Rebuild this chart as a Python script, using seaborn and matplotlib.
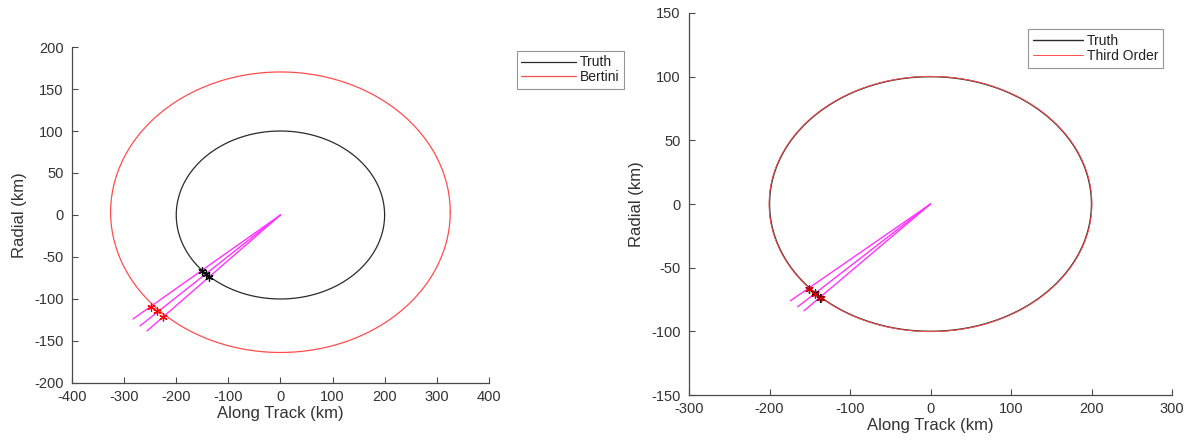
import numpy as np
import pandas as pd
import matplotlib
matplotlib.use("Agg")
import matplotlib.pyplot as plt
import seaborn as sns

# Ellipse parameters (km): semi-axis along track, semi-axis radial, radial centre offset
truth_ellipse = [200.0, 100.0, 0.0]
bertini_ellipse = [326.0, 167.0, 3.3]
third_order_ellipse = [200.5, 100.2, 0.0]

# Line-of-sight rays from the origin (end points, km)
left_ray_end_x = [-283.0, -269.5, -256.0]
left_ray_end_y = [-123.8, -132.0, -138.0]
right_ray_end_x = [-174.0, -165.0, -157.0]
right_ray_end_y = [-76.0, -80.7, -83.8]

# Ray intersections with each ellipse (km)
truth_hit_x = [-151.3, -143.0, -136.8]
truth_hit_y = [-66.7, -70.2, -74.2]
bertini_hit_x = [-248.7, -237.5, -224.9]
bertini_hit_y = [-109.2, -114.3, -121.0]
third_hit_x = [-151.0, -143.5, -136.5]
third_hit_y = [-66.5, -70.4, -74.0]

sns.set_theme(style="white")
plt.rcParams["font.family"] = ["Liberation Sans", "DejaVu Sans"]

AX_COLOR = "#4a4a4a"
TRUTH_C = "#2b2b2b"
EST_C = "#ff4d4d"
RAY_C = "#ff33ff"
ASTERISK = (6, 2, 0)


def ellipse_frame(params, n=721):
    a, b, cy = params
    t = np.linspace(0, 2 * np.pi, n)
    return pd.DataFrame({"x": a * np.cos(t), "y": b * np.sin(t) + cy, "order": np.arange(n)})


def draw_rays(ax, ex, ey):
    for x1, y1 in zip(ex, ey):
        seg = pd.DataFrame({"x": [0.0, x1], "y": [0.0, y1]})
        sns.lineplot(data=seg, x="x", y="y", sort=False, estimator=None,
                     color=RAY_C, lw=1.0, ax=ax, legend=False)


def draw_hits(ax, xs, ys, color):
    pts = pd.DataFrame({"x": xs, "y": ys})
    sns.scatterplot(data=pts, x="x", y="y", marker=ASTERISK, s=28,
                    color=color, edgecolor=color, linewidth=0.9, ax=ax,
                    legend=False, zorder=5)


def style_axes(ax, xlim, ylim, xticks, yticks):
    ax.set_xlim(*xlim)
    ax.set_ylim(*ylim)
    ax.set_xticks(xticks)
    ax.set_yticks(yticks)
    ax.set_xticklabels([str(v) for v in xticks])
    ax.set_yticklabels([str(v) for v in yticks])
    for side in ("top", "right"):
        ax.spines[side].set_visible(False)
    for side in ("left", "bottom"):
        ax.spines[side].set_color(AX_COLOR)
        ax.spines[side].set_linewidth(0.9)
    ax.tick_params(direction="in", length=4, width=0.8, color=AX_COLOR,
                   labelcolor="#333333", labelsize=10.5, bottom=True, left=True)
    ax.tick_params(axis="x", pad=5)
    ax.tick_params(axis="y", pad=6)
    ax.set_xlabel("Along Track (km)", fontsize=12, color="#333333", labelpad=1.5)
    ax.set_ylabel("Radial (km)", fontsize=12, color="#333333", labelpad=5)


def style_legend(leg):
    leg.get_frame().set_edgecolor("#7a7a7a")
    leg.get_frame().set_linewidth(0.8)
    for txt in leg.get_texts():
        txt.set_color("#222222")


fig = plt.figure(figsize=(11.89, 4.46), dpi=100)
ax1 = fig.add_axes([0.0606, 0.1413, 0.3505, 0.7533])
ax2 = fig.add_axes([0.5795, 0.1143, 0.4062, 0.8566])

# Left panel: truth vs Bertini solution
t_df = ellipse_frame(truth_ellipse)
b_df = ellipse_frame(bertini_ellipse)
draw_rays(ax1, left_ray_end_x, left_ray_end_y)
sns.lineplot(data=t_df, x="x", y="y", sort=False, estimator=None,
             color=TRUTH_C, lw=0.9, ax=ax1, label="Truth")
sns.lineplot(data=b_df, x="x", y="y", sort=False, estimator=None,
             color=EST_C, lw=0.9, ax=ax1, label="Bertini")
draw_hits(ax1, truth_hit_x, truth_hit_y, "black")
draw_hits(ax1, bertini_hit_x, bertini_hit_y, "red")
style_axes(ax1, (-400, 400), (-200, 200),
           list(range(-400, 401, 100)), list(range(-200, 201, 50)))
leg1 = ax1.legend(loc="upper left", bbox_to_anchor=(1.05, 1.01), fontsize=10,
                  handlelength=3.9, handletextpad=0.3, borderpad=0.35,
                  labelspacing=0.05, fancybox=False, frameon=True)
style_legend(leg1)

# Right panel: truth vs third-order solution
o_df = ellipse_frame(third_order_ellipse)
draw_rays(ax2, right_ray_end_x, right_ray_end_y)
sns.lineplot(data=t_df, x="x", y="y", sort=False, estimator=None,
             color=TRUTH_C, lw=1.0, ax=ax2, label="Truth")
sns.lineplot(data=o_df, x="x", y="y", sort=False, estimator=None,
             color=EST_C, lw=0.7, ax=ax2, label="Third Order")
draw_hits(ax2, truth_hit_x, truth_hit_y, "black")
draw_hits(ax2, third_hit_x, third_hit_y, "#cc0000")
style_axes(ax2, (-300, 300), (-150, 150),
           list(range(-300, 301, 100)), list(range(-150, 151, 50)))
leg2 = ax2.legend(loc="upper right", bbox_to_anchor=(0.996, 0.975), fontsize=10,
                  handlelength=3.6, handletextpad=0.3, borderpad=0.35,
                  labelspacing=0.05, fancybox=False, frameon=True)
style_legend(leg2)

fig.savefig("out.png", dpi=100, facecolor="white")
